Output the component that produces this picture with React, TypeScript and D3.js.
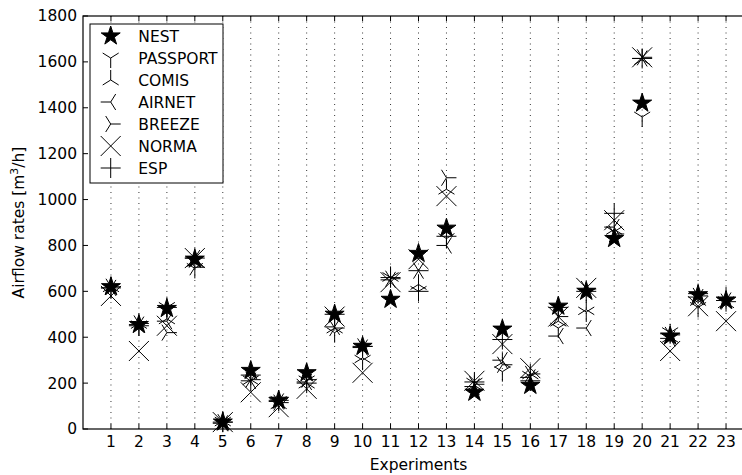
import React from "react";
import * as d3 from "d3";

const experiments = d3.range(1, 24);
const seriesNames = ["NEST", "PASSPORT", "COMIS", "AIRNET", "BREEZE", "NORMA", "ESP"];
const yTicks = [0, 200, 400, 600, 800, 1000, 1200, 1400, 1600, 1800];

const nest = [620, 455, 525, 740, 30, 255, 125, 245, 500, 360, 565, 765, 875, 160, 435, 190, 535, 600, 830, 1420, 405, 585, 560];
const passport = [610, 450, 530, 700, 30, 210, 120, 210, 420, 300, 660, 600, 830, 200, 250, 230, 440, 510, 860, 1360, 420, 530, 555];
const comis = [620, 460, 480, 730, 35, 215, 110, 200, 440, 310, 665, 630, 1045, 190, 290, 240, 470, 520, 870, 1610, 400, 560, 550];
const airnet = [615, 455, 470, 745, 25, 210, 120, 205, 445, 355, 650, 690, 800, 185, 300, 225, 405, 440, 880, 1615, 395, 575, 560];
const breeze = [620, 460, 420, 705, 30, 215, 115, 215, 440, 360, 655, 690, 1095, 195, 280, 240, 490, 610, 850, 1620, 410, 580, 555];
const norma = [580, 340, 450, 745, 30, 160, 95, 175, 490, 245, 640, 740, 1015, 210, 370, 265, 490, 615, 910, 1620, 340, 535, 470];
const esp = [615, 450, 530, 745, 30, 235, 125, 200, 500, 360, 660, 600, 840, 205, 390, 210, 530, 600, 940, 1615, 415, 590, 575];

const seriesValues = [nest, passport, comis, airnet, breeze, norma, esp];
const markerKinds = ["star", "tri_down", "tri_up", "tri_left", "tri_right", "x", "plus"];

const W = 742, H = 475;
const M = { left: 83, top: 16, bottom: 429, right: 754 };
const FONT = "DejaVu Sans, sans-serif";
const FS = 15.5;

function markerPath(kind: string, r: number): string {
  const a = 0.8 * r, b = 0.5 * r;
  switch (kind) {
    case "star": {
      const pts: [number, number][] = [];
      for (let i = 0; i < 10; i++) {
        const rr = i % 2 === 0 ? r : r * 0.381966;
        const ang = -Math.PI / 2 + (i * Math.PI) / 5;
        pts.push([rr * Math.cos(ang), rr * Math.sin(ang)]);
      }
      return "M" + pts.map((p) => p.join(",")).join("L") + "Z";
    }
    case "tri_down":
      return `M0,0L0,${r}M0,0L${a},${-b}M0,0L${-a},${-b}`;
    case "tri_up":
      return `M0,0L0,${-r}M0,0L${a},${b}M0,0L${-a},${b}`;
    case "tri_left":
      return `M0,0L${-r},0M0,0L${b},${a}M0,0L${b},${-a}`;
    case "tri_right":
      return `M0,0L${r},0M0,0L${-b},${a}M0,0L${-b},${-a}`;
    case "x":
      return `M${-r},${-r}L${r},${r}M${-r},${r}L${r},${-r}`;
    case "plus":
      return `M${-r},0L${r},0M0,${-r}L0,${r}`;
  }
  return "";
}

function Marker({ kind, x, y }: { kind: string; x: number; y: number }) {
  const filled = kind === "star";
  return (
    <path
      d={markerPath(kind, 10)}
      transform={`translate(${x},${y})`}
      fill={filled ? "#000" : "none"}
      stroke="#000"
      strokeWidth={1}
      strokeLinejoin="miter"
    />
  );
}

export default function App() {
  const x = d3.scaleLinear().domain([0, 24]).range([M.left, M.right]);
  const y = d3.scaleLinear().domain([0, 1800]).range([M.bottom, M.top]);

  const legendX = 90, legendY = 24, legendW = 133, legendH = 159;

  return (
    <div style={{ position: "fixed", left: 0, top: 0 }}>
      <svg width={W} height={H} style={{ display: "block", background: "#fff" }} fontFamily={FONT}>
        <rect x={0} y={0} width={W} height={H} fill="#fff" />
        {experiments.map((e) => (
          <line key={"g" + e} x1={x(e)} x2={x(e)} y1={M.top} y2={M.bottom} stroke="#000" strokeWidth={0.8} strokeDasharray="1,4.5" />
        ))}
        {seriesValues.map((vals, si) =>
          vals.map((v, i) => <Marker key={si + "-" + i} kind={markerKinds[si]} x={x(experiments[i])} y={y(v)} />)
        )}
        <rect x={M.left} y={M.top} width={M.right - M.left} height={M.bottom - M.top} fill="none" stroke="#000" strokeWidth={1.2} />
        {experiments.map((e) => (
          <g key={"xt" + e}>
            <line x1={x(e)} x2={x(e)} y1={M.bottom} y2={M.bottom - 5} stroke="#000" strokeWidth={1} />
            <line x1={x(e)} x2={x(e)} y1={M.top} y2={M.top + 5} stroke="#000" strokeWidth={1} />
            <text x={x(e)} y={M.bottom + 18} textAnchor="middle" fontSize={FS}>{e}</text>
          </g>
        ))}
        {yTicks.map((t) => (
          <g key={"yt" + t}>
            <line x1={M.left} x2={M.left + 5} y1={y(t)} y2={y(t)} stroke="#000" strokeWidth={1} />
            <text x={M.left - 6} y={y(t)} dy="0.35em" textAnchor="end" fontSize={FS}>{t}</text>
          </g>
        ))}
        <text x={(M.left + M.right) / 2} y={470} textAnchor="middle" fontSize={FS}>Experiments</text>
        <text transform={`translate(24,${(M.top + M.bottom) / 2}) rotate(-90)`} textAnchor="middle" fontSize={FS}>
          Airflow rates [m<tspan dy={-6} fontSize={FS * 0.7}>3</tspan><tspan dy={6}>/h]</tspan>
        </text>
        <rect x={legendX} y={legendY} width={legendW} height={legendH} fill="#fff" stroke="#000" strokeWidth={1} />
        {seriesNames.map((n, i) => {
          const cy = 36 + i * 22;
          return (
            <g key={"lg" + n}>
              <Marker kind={markerKinds[i]} x={110.7} y={cy} />
              <text x={138.3} y={cy} dy="0.36em" fontSize={FS}>{n}</text>
            </g>
          );
        })}
      </svg>
    </div>
  );
}
